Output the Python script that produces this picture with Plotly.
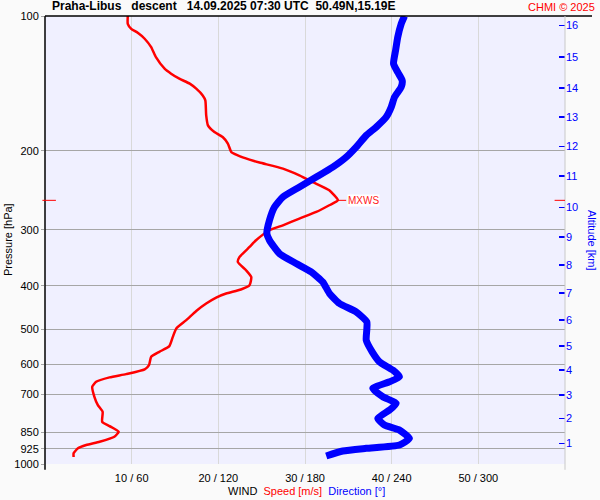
import plotly.graph_objects as go

# ---- data ----
speed_hpa = [100, 104.1, 106.8, 109.0, 112.4, 117.4, 123.6, 131.1, 134.5, 138.0, 141.6, 145.3, 150.4,
             154.3, 166.7, 175.4, 181.6, 186.3, 192.7, 201.2, 204.6, 209.2, 212.4, 219.1, 226.8, 234.8,
             244.9, 257.9, 264.5, 273.8, 283.3, 293.2, 300.8, 316.7, 327.8, 345.0, 354.0, 369.4, 382.4,
             399.0, 407.9, 416.4, 425.0, 438.3, 455.3, 477.5, 498.3, 520.2, 545.6, 561.8, 576.5, 601.6,
             614.9, 630.0, 640.8, 655.4, 672.4, 707.9, 738.7, 764.5, 805.0, 823.0, 847.3, 869.3, 892.0,
             907.2, 922.7, 946.4, 964.7]
speed_ms = [9.55, 9.55, 9.95, 10.7, 11.5, 12.25, 12.8, 13.8, 14.55, 15.5, 16.7, 17.45, 18.2,
            18.5, 18.6, 18.8, 19.55, 20.5, 21.1, 21.5, 22.25, 23.6, 24.75, 27.45, 29.35, 30.9,
            32.8, 33.8, 32.8, 31.3, 29.35, 27.45, 25.9, 24.35, 23.6, 22.45, 22.25, 23.2, 23.8,
            23.6, 22.6, 20.9, 19.75, 18.6, 17.45, 16.3, 15.15, 14.75, 14.35, 13.2, 12.25, 12.0,
            11.5, 9.35, 7.45, 5.9, 5.45, 5.7, 6.1, 6.65, 6.6, 7.45, 8.5, 8.0, 6.3,
            4.75, 3.8, 3.3, 3.3]

dir_hpa = [100, 104.1, 111.5, 119.4, 127.8, 133.5, 139.3, 144.1, 151.7, 159.7, 168.1, 177.0, 184.7,
           196.1, 206.5, 217.4, 228.8, 240.8, 253.6, 266.9, 285.8, 305.9, 316.7, 339.0, 356.9, 372.6,
           392.3, 416.4, 438.3, 457.4, 481.6, 500.8, 529.1, 561.8, 591.5, 617.2, 638.8, 655.4, 678.2,
           707.9, 732.3, 757.8, 790.8, 818.7, 840.0, 876.6, 907.2, 922.7, 935.5, 959.8]
dir_deg = [248.9, 246.6, 244.2, 242.7, 241.3, 244.2, 247.3, 246.6, 242.0, 239.7, 236.2, 229.3, 222.4,
           215.4, 208.5, 199.2, 187.8, 176.2, 164.6, 158.9, 155.4, 153.6, 155.4, 162.3, 173.9, 184.3,
           192.3, 197.0, 203.9, 215.4, 222.8, 222.8, 222.4, 226.5, 231.6, 240.8, 245.4, 238.5, 226.9,
           233.9, 243.1, 238.5, 230.4, 235.0, 245.4, 252.3, 245.4, 222.4, 206.2, 194.7]

pressure_ticks = [100, 200, 300, 400, 500, 600, 700, 850, 925, 1000]
wind_ticks = [10, 20, 30, 40, 50]
wind_ticktext = ["10 / 60", "20 / 120", "30 / 180", "40 / 240", "50 / 300"]
alt_km = [1, 2, 3, 4, 5, 6, 7, 8, 9, 10, 11, 12, 13, 14, 15, 16]
alt_tick_hpa = [899.1, 790.8, 701.8, 617.2, 544.8, 477.5, 415.1, 360.0, 311.3, 267.7,
                227.6, 195.4, 168.1, 144.9, 123.6, 105.0]
mxws_hpa = 257.9
mxws_ms = 33.8

FONT = "Liberation Sans, Arial, sans-serif"
NB = "\u00a0"

fig = go.Figure()
fig.add_trace(go.Scatter(x=speed_ms, y=speed_hpa, mode="lines",
                         line=dict(color="#ff0000", width=2.5, shape="spline", smoothing=0.5),
                         xaxis="x", yaxis="y", hoverinfo="skip", showlegend=False))
fig.add_trace(go.Scatter(x=dir_deg, y=dir_hpa, mode="lines",
                         line=dict(color="#0000ff", width=7, shape="spline", smoothing=0.5),
                         xaxis="x2", yaxis="y2", hoverinfo="skip", showlegend=False))
# MXWS pointer
fig.add_trace(go.Scatter(x=[mxws_ms, mxws_ms + 0.95], y=[mxws_hpa, mxws_hpa], mode="lines",
                         line=dict(color="#ff0000", width=1), xaxis="x", yaxis="y",
                         hoverinfo="skip", showlegend=False))
fig.add_annotation(x=mxws_ms + 1.0, y=2.4115, xref="x", yref="y", text="MXWS",
                   showarrow=False, xanchor="left", yanchor="middle",
                   font=dict(family=FONT, size=10, color="#ff2020"), bgcolor="#ffffff",
                   borderpad=0)

fig.update_layout(
    template="none",
    width=600, height=500,
    margin=dict(l=45, r=35, t=15.5, b=36, autoexpand=False),
    paper_bgcolor="#fafafa", plot_bgcolor="#f0f0ff",
    font=dict(family=FONT, size=11, color="#000000"),
    xaxis=dict(range=[0, 60], tickvals=wind_ticks, ticktext=wind_ticktext, automargin=False,
               showgrid=True, gridcolor="#d9d9d9", gridwidth=1, zeroline=False,
               showline=False, ticks="", ticklabelstandoff=6),
    xaxis2=dict(range=[0, 360], overlaying="x", showgrid=False, zeroline=False, automargin=False,
                showticklabels=False, ticks="", showline=False),
    yaxis=dict(type="log", range=[3, 2], tickvals=pressure_ticks, automargin=False,
               ticktext=[str(v) for v in pressure_ticks],
               showgrid=True, gridcolor="#a6a6a6", gridwidth=1, zeroline=False,
               showline=False, ticks="outside", ticklen=3, tickcolor="#a6a6a6"),
    yaxis2=dict(type="log", range=[3, 2], overlaying="y", side="right", automargin=False,
                tickvals=alt_tick_hpa, ticktext=[str(v) for v in alt_km],
                showgrid=False, zeroline=False, showline=False,
                ticks="inside", ticklen=6, tickcolor="#0000ff", tickwidth=1.5,
                tickfont=dict(color="#0000ff", size=11)),
    shapes=[
        dict(type="line", xref="paper", yref="paper", x0=0, x1=1.052, y0=1, y1=1,
             line=dict(color="#000000", width=1.5)),
        dict(type="line", xref="paper", yref="paper", x0=0, x1=0, y0=1, y1=-0.013,
             line=dict(color="#000000", width=1.5)),
        dict(type="line", xref="paper", yref="paper", x0=1, x1=1, y0=1, y1=-0.013,
             line=dict(color="#c8c8c8", width=1)),
        dict(type="line", xref="paper", yref="y", x0=-0.005, x1=0.021, y0=mxws_hpa, y1=mxws_hpa,
             line=dict(color="#ff0000", width=1)),
        dict(type="line", xref="paper", yref="y", x0=0.98, x1=1.0, y0=mxws_hpa, y1=mxws_hpa,
             line=dict(color="#ff0000", width=1)),
    ],
)

fig.add_annotation(x=0.01, y=1.0, xref="paper", yref="paper", yshift=1,
                   text="<b>Praha-Libus" + NB * 3 + "descent" + NB * 3 + "14.09.2025 07:30 UTC" + NB * 2 +
                        "50.49N,15.19E</b>",
                   showarrow=False, xanchor="left", yanchor="bottom",
                   font=dict(family=FONT, size=12, color="#000000"))
fig.add_annotation(x=1.0615, y=1.0, xref="paper", yref="paper", yshift=1,
                   text="CHMI © 2025", showarrow=False, xanchor="right", yanchor="bottom",
                   font=dict(family=FONT, size=11, color="#ff0000"))
fig.add_annotation(x=-0.071, y=0.5, xref="paper", yref="paper", text="Pressure [hPa]",
                   textangle=-90, showarrow=False, xanchor="center", yanchor="middle",
                   font=dict(family=FONT, size=11, color="#000000"))
fig.add_annotation(x=1.052, y=0.5, xref="paper", yref="paper", text="Altitude [km]",
                   textangle=90, showarrow=False, xanchor="center", yanchor="middle",
                   font=dict(family=FONT, size=11, color="#0000ff"))
fig.add_annotation(x=0.503, y=-0.06, xref="paper", yref="paper",
                   text="WIND" + NB * 2 + "<span style='color:#ff0000'>Speed [m/s]</span>" + NB * 2 +
                        "<span style='color:#0000ff'>Direction [°]</span>",
                   showarrow=False, xanchor="center", yanchor="middle",
                   font=dict(family=FONT, size=11, color="#000000"))

fig.write_html("out.html", config={"displayModeBar": False, "staticPlot": True},
               post_script="document.body.style.margin='0';document.body.style.overflow='hidden';")
